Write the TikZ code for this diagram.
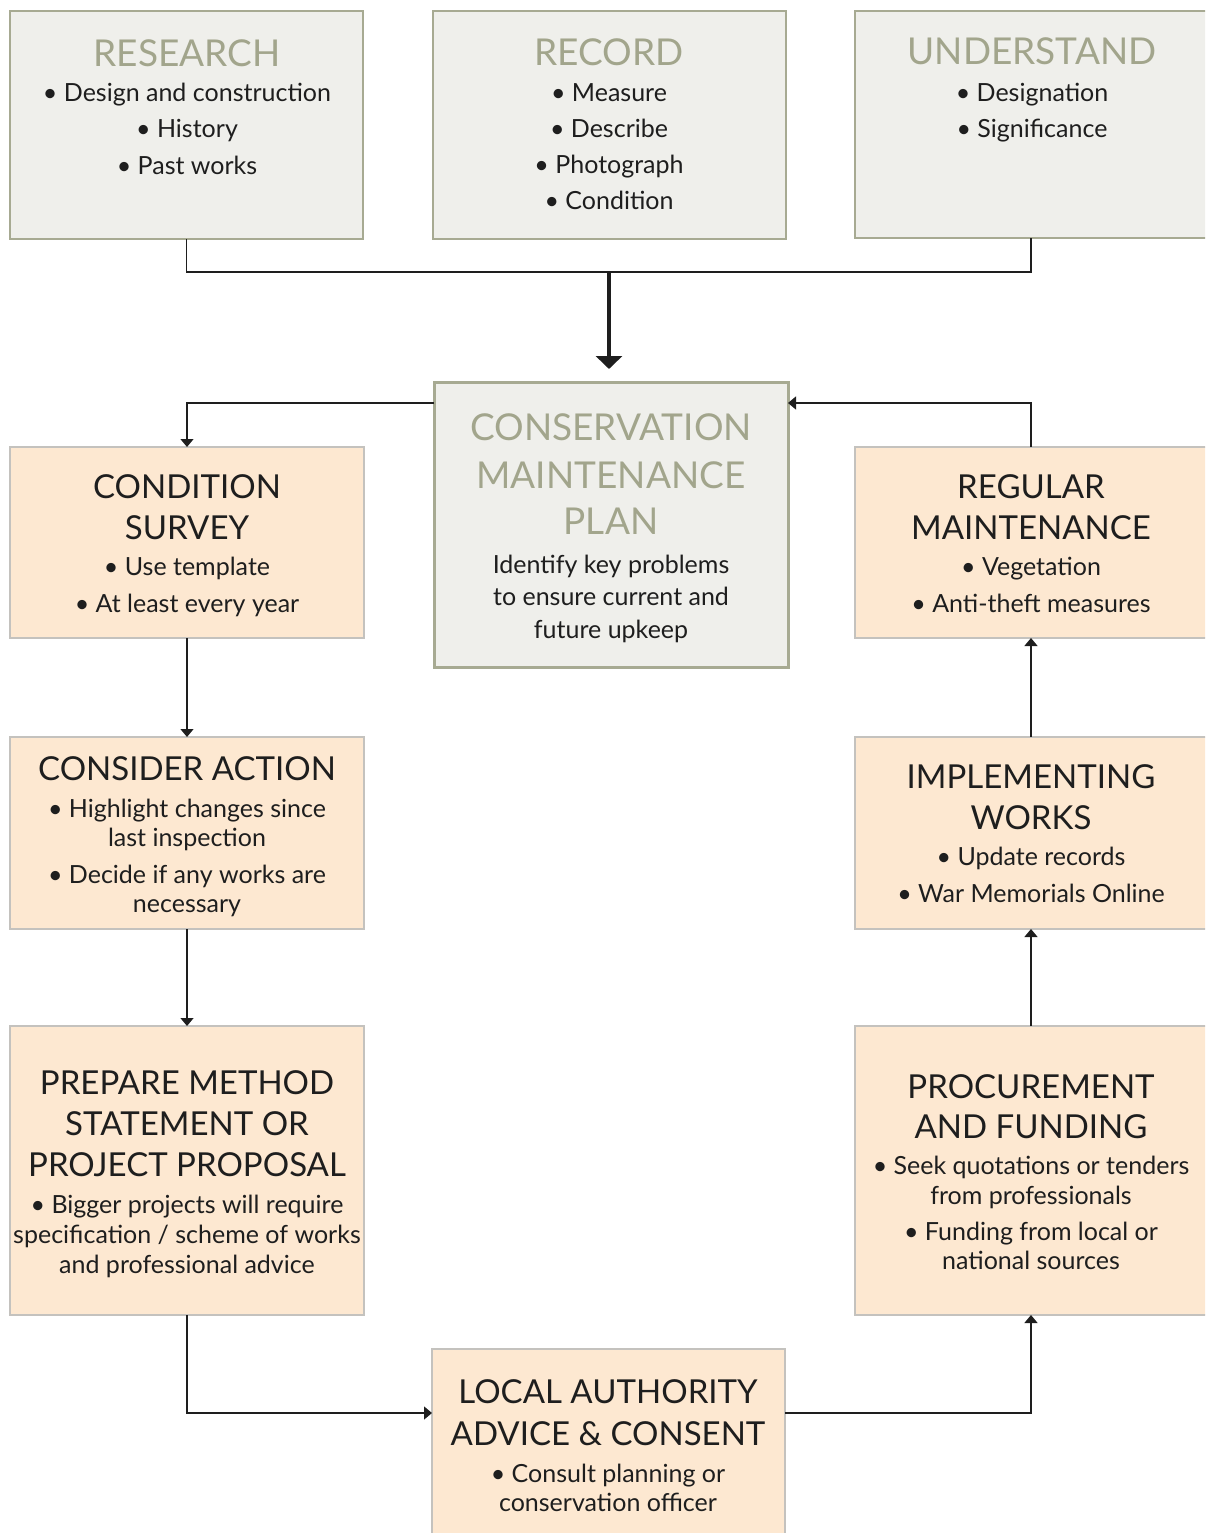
\documentclass[tikz,border=0pt]{standalone}
\usepackage{fontspec}
\setmainfont{Lato}
\usetikzlibrary{arrows.meta}
\definecolor{greyfill}{HTML}{EFEFEB}
\definecolor{greyline}{HTML}{A7AA92}
\definecolor{titlegrey}{HTML}{A2A58C}
\definecolor{peach}{HTML}{FDE8D1}
\definecolor{peachline}{HTML}{C4C2BE}
\definecolor{ink}{HTML}{1E1E1E}
\newcommand\putline[5]{\node[#1] (#2) at (#3,#4) {#5};}
\tikzset{
  greybox/.style={draw=greyline, fill=greyfill, line width=1.5pt, inner sep=0pt, outer sep=0pt},
  planbox/.style={draw=greyline, fill=greyfill, line width=3pt, inner sep=0pt, outer sep=0pt},
  peachbox/.style={draw=peachline, fill=peach, line width=1.5pt, inner sep=0pt, outer sep=0pt},
  gtitle/.style={font=\fontsize{37}{37}\selectfont, text=titlegrey, inner sep=0pt, anchor=base},
  otitle/.style={font=\fontsize{33}{33}\selectfont, text=ink, inner sep=0pt, anchor=base},
  body/.style={font=\fontsize{25}{25}\selectfont, text=ink, inner sep=0pt, anchor=base},
  conn/.style={draw=ink, line width=1.3pt},
  arr/.style={conn, -{Triangle[width=13pt,length=8pt]}},
  bigarr/.style={draw=ink, line width=4pt, -{Triangle[width=26pt,length=13pt]}, shorten >=13pt},
}
\begin{document}
\begin{tikzpicture}[x=1pt, y=-1pt]
\useasboundingbox (0,0) rectangle (1205,1533);
\clip (0,0) rectangle (1205,1533);
% boxes
\node[greybox, minimum width=353pt, minimum height=228pt] (research) at (186.5,125) {};
\node[greybox, minimum width=353pt, minimum height=228pt] (record) at (609.5,125) {};
\node[greybox, minimum width=352pt, minimum height=227pt] (understand) at (1031,124.5) {};
\node[planbox, minimum width=354pt, minimum height=285pt] (cmp) at (611,524.5) {};
\node[peachbox, minimum width=354pt, minimum height=191pt] (condsurv) at (187,542.5) {};
\node[peachbox, minimum width=352pt, minimum height=191pt] (regmaint) at (1031,542.5) {};
\node[peachbox, minimum width=354pt, minimum height=192pt] (consider) at (187,833) {};
\node[peachbox, minimum width=352pt, minimum height=192pt] (implement) at (1031,833) {};
\node[peachbox, minimum width=354pt, minimum height=289pt] (prepare) at (187,1170.5) {};
\node[peachbox, minimum width=352pt, minimum height=289pt] (procure) at (1031,1170.5) {};
\node[peachbox, minimum width=353pt, minimum height=187pt] (local) at (608.5,1442.5) {};
% connectors
\coordinate (junction) at (609,272);
\draw[conn] (research.south) |- (junction) -| (understand.south);
\draw[bigarr] (junction) -- (junction |- cmp.north);
\draw[arr] ([yshift=-21pt]cmp.north west) -| (condsurv.north);
\draw[arr] (regmaint.north) |- ([yshift=-21pt]cmp.north east);
\draw[arr] (condsurv.south) -- (consider.north);
\draw[arr] (consider.south) -- (prepare.north);
\draw[arr] (prepare.south) |- ([yshift=-64pt]local.north west);
\draw[arr] ([yshift=-64pt]local.north east) -| (procure.south);
\draw[arr] (procure.north) -- (implement.south);
\draw[arr] (implement.north) -- (regmaint.south);
% texts
\putline{gtitle}{rs0}{187}{67}{RESEARCH}
\putline{body}{rs1}{187}{102}{• Design and construction}
\putline{body}{rs2}{187}{138}{• History}
\putline{body}{rs3}{187}{175}{• Past works}
\putline{gtitle}{rc0}{609}{66}{RECORD}
\putline{body}{rc1}{609}{102}{• Measure}
\putline{body}{rc2}{609}{138}{• Describe}
\putline{body}{rc3}{609}{174}{• Photograph}
\putline{body}{rc4}{609}{210}{• Condition}
\putline{gtitle}{un0}{1032}{65}{UNDERSTAND}
\putline{body}{un1}{1032}{102}{• Designation}
\putline{body}{un2}{1032}{138}{• Significance}
\putline{gtitle}{cm0}{611}{440}{CONSERVATION}
\putline{gtitle}{cm1}{611}{488}{MAINTENANCE}
\putline{gtitle}{cm2}{611}{534}{PLAN}
\putline{body}{cm3}{611}{573}{Identify key problems}
\putline{body}{cm4}{611}{605}{to ensure current and}
\putline{body}{cm5}{611}{638}{future upkeep}
\putline{otitle}{cs0}{187}{498}{CONDITION}
\putline{otitle}{cs1}{187}{539}{SURVEY}
\putline{body}{cs2}{187}{575}{• Use template}
\putline{body}{cs3}{187}{612}{• At least every year}
\putline{otitle}{rm0}{1031}{498}{REGULAR}
\putline{otitle}{rm1}{1031}{539}{MAINTENANCE}
\putline{body}{rm2}{1031}{575}{• Vegetation}
\putline{body}{rm3}{1031}{612}{• Anti-theft measures}
\putline{otitle}{ca0}{187}{780}{CONSIDER ACTION}
\putline{body}{ca1}{187}{817}{• Highlight changes since}
\putline{body}{ca2}{187}{846}{last inspection}
\putline{body}{ca3}{187}{883}{• Decide if any works are}
\putline{body}{ca4}{187}{912}{necessary}
\putline{otitle}{iw0}{1031}{788}{IMPLEMENTING}
\putline{otitle}{iw1}{1031}{829}{WORKS}
\putline{body}{iw2}{1031}{865}{• Update records}
\putline{body}{iw3}{1031}{902}{• War Memorials Online}
\putline{otitle}{pm0}{187}{1094}{PREPARE METHOD}
\putline{otitle}{pm1}{187}{1135}{STATEMENT OR}
\putline{otitle}{pm2}{187}{1176}{PROJECT PROPOSAL}
\putline{body}{pm3}{187}{1213}{• Bigger projects will require}
\putline{body}{pm4}{187}{1243}{specification / scheme of works}
\putline{body}{pm5}{187}{1273}{and professional advice}
\putline{otitle}{pf0}{1031}{1098}{PROCUREMENT}
\putline{otitle}{pf1}{1031}{1138}{AND FUNDING}
\putline{body}{pf2}{1031}{1174}{• Seek quotations or tenders}
\putline{body}{pf3}{1031}{1204}{from professionals}
\putline{body}{pf4}{1031}{1240}{• Funding from local or}
\putline{body}{pf5}{1031}{1269}{national sources}
\putline{otitle}{la0}{608}{1403}{LOCAL AUTHORITY}
\putline{otitle}{la1}{608}{1445}{ADVICE \& CONSENT}
\putline{body}{la2}{608}{1482}{• Consult planning or}
\putline{body}{la3}{608}{1511}{conservation officer}
\end{tikzpicture}
\end{document}
